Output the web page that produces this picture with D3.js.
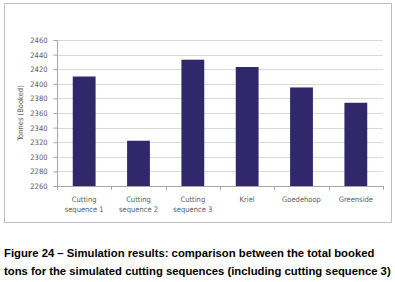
<!DOCTYPE html>
<html>
<head>
<meta charset="utf-8">
<script src="https://cdn.jsdelivr.net/npm/d3@7"></script>
<style>
  body { margin: 0; background: #fff; }
  svg { display: block; }
</style>
</head>
<body>
<div id="chart"></div>
<script>
const w = 395
const h = 282

const categories = ['Cutting sequence 1', 'Cutting sequence 2', 'Cutting sequence 3', 'Kriel', 'Goedehoop', 'Greenside']
const labelLines = [['Cutting', 'sequence 1'], ['Cutting', 'sequence 2'], ['Cutting', 'sequence 3'], ['Kriel'], ['Goedehoop'], ['Greenside']]
const tonnes = [2410, 2322, 2433, 2423, 2395, 2374]
const yTicks = [2260, 2280, 2300, 2320, 2340, 2360, 2380, 2400, 2420, 2440, 2460]
const caption = [
    'Figure 24 \u2013 Simulation results: comparison between the total booked',
    'tons for the simulated cutting sequences (including cutting sequence 3)'
]

const pLeft = 57, pRight = 383, pTop = 40, pBottom = 186
const axisFont = '7.5px "Liberation Sans Narrow", "DejaVu Sans Condensed", "Liberation Sans", sans-serif'

const svg = d3.select('#chart')
    .append('svg')
    .attr('width', w)
    .attr('height', h)

// chart frame
svg.append('rect')
    .attr('x', 4.5).attr('y', 3.5)
    .attr('width', 387).attr('height', 219)
    .attr('fill', '#fff')
    .attr('stroke', '#bfbfbf')

const xScale = d3.scaleBand()
    .domain(categories)
    .range([pLeft, pRight])
    .paddingInner(0.58)
    .paddingOuter(0.29)

const yScale = d3.scaleLinear()
    .domain([2260, 2460])
    .range([pBottom, pTop])

// gridlines
svg.append('g')
    .selectAll('line')
    .data(yTicks.slice(1))
    .enter()
    .append('line')
    .attr('x1', pLeft).attr('x2', pRight)
    .attr('y1', d => Math.round(yScale(d)) + 0.5)
    .attr('y2', d => Math.round(yScale(d)) + 0.5)
    .attr('stroke', '#d9d9d9')

const yAxis = d3.axisLeft(yScale).tickValues(yTicks).tickFormat(d3.format('d')).tickSize(4).tickPadding(6)
svg.append('g')
    .attr('transform', `translate(${pLeft + 0.5}, 0)`)
    .call(yAxis)
    .call(g => g.selectAll('line, path').attr('stroke', '#a6a6a6'))
    .call(g => g.select('.domain').attr('d', `M-4,${Math.round(yScale(2460)) + 0.5}H0V${Math.round(yScale(2260)) + 0.5}H-4`))
    .call(g => g.selectAll('text').attr('fill', '#595959').style('font', axisFont))

// bars
svg.append('g')
    .selectAll('rect')
    .data(tonnes)
    .enter()
    .append('rect')
    .attr('x', (d, i) => xScale(categories[i]))
    .attr('y', d => yScale(d))
    .attr('width', xScale.bandwidth())
    .attr('height', d => pBottom - yScale(d))
    .attr('fill', '#30286a')

// x axis line and ticks between categories
const xg = svg.append('g')
xg.append('line')
    .attr('x1', pLeft).attr('x2', pRight)
    .attr('y1', Math.round(pBottom) + 0.5).attr('y2', Math.round(pBottom) + 0.5)
    .attr('stroke', '#a6a6a6')
xg.selectAll('line.tick')
    .data(d3.range(categories.length + 1))
    .enter()
    .append('line')
    .attr('class', 'tick')
    .attr('x1', i => Math.round(pLeft + i * xScale.step()) + 0.5)
    .attr('x2', i => Math.round(pLeft + i * xScale.step()) + 0.5)
    .attr('y1', pBottom).attr('y2', pBottom + 4)
    .attr('stroke', '#a6a6a6')

xg.selectAll('text')
    .data(labelLines)
    .enter()
    .append('text')
    .attr('x', (d, i) => xScale(categories[i]) + xScale.bandwidth() / 2)
    .attr('y', 202)
    .attr('text-anchor', 'middle')
    .attr('fill', '#595959')
    .style('font', axisFont)
    .selectAll('tspan')
    .data(d => d)
    .enter()
    .append('tspan')
    .attr('x', function () { return d3.select(this.parentNode).attr('x') })
    .attr('dy', (d, i) => i === 0 ? 0 : 10)
    .text(d => d)

// y axis title
svg.append('text')
    .attr('transform', `translate(23, ${(pTop + pBottom) / 2}) rotate(-90)`)
    .attr('text-anchor', 'middle')
    .attr('fill', '#595959')
    .style('font', axisFont)
    .text('Tonnes (Booked)')

// caption, squeezed to fit the page width
svg.append('g')
    .selectAll('text')
    .data(caption)
    .enter()
    .append('text')
    .attr('x', 4)
    .attr('y', (d, i) => 257 + i * 18)
    .attr('fill', '#000')
    .style('font', 'bold 11.3px "Liberation Sans", Arial, sans-serif')
    .text(d => d)
    .each(function () {
        if (this.getComputedTextLength() > 387) {
            d3.select(this).attr('textLength', 387).attr('lengthAdjust', 'spacingAndGlyphs')
        }
    })
</script>
</body>
</html>
